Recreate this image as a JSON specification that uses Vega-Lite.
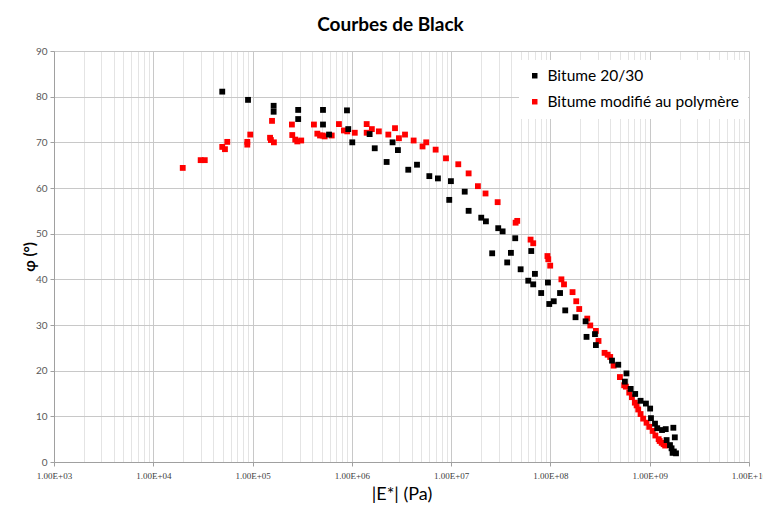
{
  "$schema": "https://vega.github.io/schema/vega-lite/v6.json",
  "width": 695,
  "height": 411,
  "autosize": "none",
  "padding": {"left": 54, "top": 51, "right": 14, "bottom": 44},
  "background": "white",
  "title": {"text": "Courbes de Black", "font": "Lato", "fontSize": 19, "fontWeight": "bold", "color": "#000000", "offset": 11, "dx": -11, "anchor": "middle"},
  "config": {"view": {"stroke": null}},
  "data": {"values": [
    {"E": 1.98e4, "phi": 64.4, "s": "Bitume modifié au polymère"},
    {"E": 3.0e4, "phi": 66.1, "s": "Bitume modifié au polymère"},
    {"E": 3.3e4, "phi": 66.1, "s": "Bitume modifié au polymère"},
    {"E": 4.95e4, "phi": 69.0, "s": "Bitume modifié au polymère"},
    {"E": 5.27e4, "phi": 68.5, "s": "Bitume modifié au polymère"},
    {"E": 5.56e4, "phi": 70.1, "s": "Bitume modifié au polymère"},
    {"E": 8.85e4, "phi": 70.1, "s": "Bitume modifié au polymère"},
    {"E": 8.85e4, "phi": 69.5, "s": "Bitume modifié au polymère"},
    {"E": 9.48e4, "phi": 71.7, "s": "Bitume modifié au polymère"},
    {"E": 1.50e5, "phi": 71.0, "s": "Bitume modifié au polymère"},
    {"E": 1.53e5, "phi": 70.5, "s": "Bitume modifié au polymère"},
    {"E": 1.64e5, "phi": 70.0, "s": "Bitume modifié au polymère"},
    {"E": 1.57e5, "phi": 74.7, "s": "Bitume modifié au polymère"},
    {"E": 2.49e5, "phi": 73.9, "s": "Bitume modifié au polymère"},
    {"E": 2.51e5, "phi": 71.6, "s": "Bitume modifié au polymère"},
    {"E": 2.69e5, "phi": 70.6, "s": "Bitume modifié au polymère"},
    {"E": 2.82e5, "phi": 70.2, "s": "Bitume modifié au polymère"},
    {"E": 3.09e5, "phi": 70.4, "s": "Bitume modifié au polymère"},
    {"E": 4.15e5, "phi": 73.9, "s": "Bitume modifié au polymère"},
    {"E": 4.49e5, "phi": 71.9, "s": "Bitume modifié au polymère"},
    {"E": 4.78e5, "phi": 71.5, "s": "Bitume modifié au polymère"},
    {"E": 5.08e5, "phi": 71.5, "s": "Bitume modifié au polymère"},
    {"E": 5.32e5, "phi": 71.3, "s": "Bitume modifié au polymère"},
    {"E": 6.27e5, "phi": 71.5, "s": "Bitume modifié au polymère"},
    {"E": 7.41e5, "phi": 74.0, "s": "Bitume modifié au polymère"},
    {"E": 8.32e5, "phi": 72.6, "s": "Bitume modifié au polymère"},
    {"E": 8.99e5, "phi": 72.4, "s": "Bitume modifié au polymère"},
    {"E": 1.07e6, "phi": 72.1, "s": "Bitume modifié au polymère"},
    {"E": 1.41e6, "phi": 74.0, "s": "Bitume modifié au polymère"},
    {"E": 1.41e6, "phi": 72.1, "s": "Bitume modifié au polymère"},
    {"E": 1.59e6, "phi": 72.9, "s": "Bitume modifié au polymère"},
    {"E": 1.87e6, "phi": 72.4, "s": "Bitume modifié au polymère"},
    {"E": 2.33e6, "phi": 71.7, "s": "Bitume modifié au polymère"},
    {"E": 2.72e6, "phi": 73.1, "s": "Bitume modifié au polymère"},
    {"E": 2.98e6, "phi": 70.9, "s": "Bitume modifié au polymère"},
    {"E": 3.43e6, "phi": 71.7, "s": "Bitume modifié au polymère"},
    {"E": 4.19e6, "phi": 70.4, "s": "Bitume modifié au polymère"},
    {"E": 5.15e6, "phi": 69.1, "s": "Bitume modifié au polymère"},
    {"E": 5.61e6, "phi": 70.0, "s": "Bitume modifié au polymère"},
    {"E": 6.98e6, "phi": 68.4, "s": "Bitume modifié au polymère"},
    {"E": 8.87e6, "phi": 66.5, "s": "Bitume modifié au polymère"},
    {"E": 1.18e7, "phi": 65.2, "s": "Bitume modifié au polymère"},
    {"E": 1.50e7, "phi": 63.2, "s": "Bitume modifié au polymère"},
    {"E": 1.86e7, "phi": 60.4, "s": "Bitume modifié au polymère"},
    {"E": 2.22e7, "phi": 58.8, "s": "Bitume modifié au polymère"},
    {"E": 2.94e7, "phi": 56.9, "s": "Bitume modifié au polymère"},
    {"E": 4.46e7, "phi": 52.4, "s": "Bitume modifié au polymère"},
    {"E": 4.63e7, "phi": 52.8, "s": "Bitume modifié au polymère"},
    {"E": 6.31e7, "phi": 48.7, "s": "Bitume modifié au polymère"},
    {"E": 6.71e7, "phi": 47.9, "s": "Bitume modifié au polymère"},
    {"E": 9.33e7, "phi": 45.1, "s": "Bitume modifié au polymère"},
    {"E": 9.51e7, "phi": 44.4, "s": "Bitume modifié au polymère"},
    {"E": 9.95e7, "phi": 43.0, "s": "Bitume modifié au polymère"},
    {"E": 1.29e8, "phi": 40.0, "s": "Bitume modifié au polymère"},
    {"E": 1.37e8, "phi": 38.9, "s": "Bitume modifié au polymère"},
    {"E": 1.67e8, "phi": 37.2, "s": "Bitume modifié au polymère"},
    {"E": 1.82e8, "phi": 35.2, "s": "Bitume modifié au polymère"},
    {"E": 1.95e8, "phi": 33.5, "s": "Bitume modifié au polymère"},
    {"E": 2.35e8, "phi": 31.4, "s": "Bitume modifié au polymère"},
    {"E": 2.52e8, "phi": 29.9, "s": "Bitume modifié au polymère"},
    {"E": 2.87e8, "phi": 28.7, "s": "Bitume modifié au polymère"},
    {"E": 3.05e8, "phi": 26.5, "s": "Bitume modifié au polymère"},
    {"E": 3.51e8, "phi": 23.9, "s": "Bitume modifié au polymère"},
    {"E": 3.77e8, "phi": 23.5, "s": "Bitume modifié au polymère"},
    {"E": 4.0e8, "phi": 23.0, "s": "Bitume modifié au polymère"},
    {"E": 4.33e8, "phi": 21.1, "s": "Bitume modifié au polymère"},
    {"E": 5.01e8, "phi": 18.6, "s": "Bitume modifié au polymère"},
    {"E": 5.53e8, "phi": 16.8, "s": "Bitume modifié au polymère"},
    {"E": 5.75e8, "phi": 16.5, "s": "Bitume modifié au polymère"},
    {"E": 6.22e8, "phi": 15.2, "s": "Bitume modifié au polymère"},
    {"E": 6.62e8, "phi": 14.2, "s": "Bitume modifié au polymère"},
    {"E": 7.08e8, "phi": 13.0, "s": "Bitume modifié au polymère"},
    {"E": 7.38e8, "phi": 12.4, "s": "Bitume modifié au polymère"},
    {"E": 7.66e8, "phi": 11.5, "s": "Bitume modifié au polymère"},
    {"E": 8.09e8, "phi": 10.5, "s": "Bitume modifié au polymère"},
    {"E": 8.59e8, "phi": 9.5, "s": "Bitume modifié au polymère"},
    {"E": 9.29e8, "phi": 8.6, "s": "Bitume modifié au polymère"},
    {"E": 9.89e8, "phi": 7.7, "s": "Bitume modifié au polymère"},
    {"E": 1.07e9, "phi": 6.8, "s": "Bitume modifié au polymère"},
    {"E": 1.14e9, "phi": 5.8, "s": "Bitume modifié au polymère"},
    {"E": 1.23e9, "phi": 5.0, "s": "Bitume modifié au polymère"},
    {"E": 1.26e9, "phi": 4.6, "s": "Bitume modifié au polymère"},
    {"E": 1.32e9, "phi": 4.2, "s": "Bitume modifié au polymère"},
    {"E": 1.38e9, "phi": 3.9, "s": "Bitume modifié au polymère"},
    {"E": 1.43e9, "phi": 3.6, "s": "Bitume modifié au polymère"},
    {"E": 4.95e4, "phi": 81.1, "s": "Bitume 20/30"},
    {"E": 9.0e4, "phi": 79.3, "s": "Bitume 20/30"},
    {"E": 1.63e5, "phi": 78.0, "s": "Bitume 20/30"},
    {"E": 1.63e5, "phi": 76.7, "s": "Bitume 20/30"},
    {"E": 2.88e5, "phi": 77.1, "s": "Bitume 20/30"},
    {"E": 2.88e5, "phi": 75.1, "s": "Bitume 20/30"},
    {"E": 5.12e5, "phi": 77.1, "s": "Bitume 20/30"},
    {"E": 5.12e5, "phi": 73.9, "s": "Bitume 20/30"},
    {"E": 5.89e5, "phi": 71.7, "s": "Bitume 20/30"},
    {"E": 8.93e5, "phi": 77.0, "s": "Bitume 20/30"},
    {"E": 9.2e5, "phi": 72.9, "s": "Bitume 20/30"},
    {"E": 1.01e6, "phi": 70.0, "s": "Bitume 20/30"},
    {"E": 1.51e6, "phi": 71.8, "s": "Bitume 20/30"},
    {"E": 1.70e6, "phi": 68.7, "s": "Bitume 20/30"},
    {"E": 2.24e6, "phi": 65.7, "s": "Bitume 20/30"},
    {"E": 2.57e6, "phi": 70.0, "s": "Bitume 20/30"},
    {"E": 2.91e6, "phi": 68.3, "s": "Bitume 20/30"},
    {"E": 3.70e6, "phi": 64.0, "s": "Bitume 20/30"},
    {"E": 4.53e6, "phi": 65.1, "s": "Bitume 20/30"},
    {"E": 6.03e6, "phi": 62.6, "s": "Bitume 20/30"},
    {"E": 7.36e6, "phi": 62.1, "s": "Bitume 20/30"},
    {"E": 9.95e6, "phi": 61.5, "s": "Bitume 20/30"},
    {"E": 9.57e6, "phi": 57.4, "s": "Bitume 20/30"},
    {"E": 1.37e7, "phi": 59.2, "s": "Bitume 20/30"},
    {"E": 1.50e7, "phi": 55.0, "s": "Bitume 20/30"},
    {"E": 2.01e7, "phi": 53.5, "s": "Bitume 20/30"},
    {"E": 2.24e7, "phi": 52.7, "s": "Bitume 20/30"},
    {"E": 2.98e7, "phi": 51.2, "s": "Bitume 20/30"},
    {"E": 3.30e7, "phi": 50.5, "s": "Bitume 20/30"},
    {"E": 4.42e7, "phi": 49.0, "s": "Bitume 20/30"},
    {"E": 2.59e7, "phi": 45.7, "s": "Bitume 20/30"},
    {"E": 4.0e7, "phi": 45.8, "s": "Bitume 20/30"},
    {"E": 6.41e7, "phi": 46.2, "s": "Bitume 20/30"},
    {"E": 3.67e7, "phi": 43.7, "s": "Bitume 20/30"},
    {"E": 5.01e7, "phi": 42.2, "s": "Bitume 20/30"},
    {"E": 6.98e7, "phi": 41.2, "s": "Bitume 20/30"},
    {"E": 5.98e7, "phi": 39.7, "s": "Bitume 20/30"},
    {"E": 6.71e7, "phi": 38.9, "s": "Bitume 20/30"},
    {"E": 9.44e7, "phi": 39.3, "s": "Bitume 20/30"},
    {"E": 8.07e7, "phi": 37.0, "s": "Bitume 20/30"},
    {"E": 1.25e8, "phi": 37.0, "s": "Bitume 20/30"},
    {"E": 9.73e7, "phi": 34.6, "s": "Bitume 20/30"},
    {"E": 1.08e8, "phi": 35.2, "s": "Bitume 20/30"},
    {"E": 1.41e8, "phi": 33.2, "s": "Bitume 20/30"},
    {"E": 1.79e8, "phi": 31.7, "s": "Bitume 20/30"},
    {"E": 2.26e8, "phi": 30.8, "s": "Bitume 20/30"},
    {"E": 2.81e8, "phi": 28.0, "s": "Bitume 20/30"},
    {"E": 2.31e8, "phi": 27.4, "s": "Bitume 20/30"},
    {"E": 2.87e8, "phi": 25.6, "s": "Bitume 20/30"},
    {"E": 4.17e8, "phi": 22.2, "s": "Bitume 20/30"},
    {"E": 4.82e8, "phi": 21.3, "s": "Bitume 20/30"},
    {"E": 5.83e8, "phi": 19.4, "s": "Bitume 20/30"},
    {"E": 5.62e8, "phi": 17.6, "s": "Bitume 20/30"},
    {"E": 6.43e8, "phi": 16.0, "s": "Bitume 20/30"},
    {"E": 7.14e8, "phi": 14.9, "s": "Bitume 20/30"},
    {"E": 8.09e8, "phi": 13.4, "s": "Bitume 20/30"},
    {"E": 9.16e8, "phi": 12.8, "s": "Bitume 20/30"},
    {"E": 1.01e9, "phi": 11.7, "s": "Bitume 20/30"},
    {"E": 1.03e9, "phi": 9.6, "s": "Bitume 20/30"},
    {"E": 1.13e9, "phi": 8.4, "s": "Bitume 20/30"},
    {"E": 1.19e9, "phi": 7.4, "s": "Bitume 20/30"},
    {"E": 1.33e9, "phi": 7.0, "s": "Bitume 20/30"},
    {"E": 1.45e9, "phi": 7.2, "s": "Bitume 20/30"},
    {"E": 1.73e9, "phi": 7.5, "s": "Bitume 20/30"},
    {"E": 1.79e9, "phi": 5.4, "s": "Bitume 20/30"},
    {"E": 1.48e9, "phi": 4.8, "s": "Bitume 20/30"},
    {"E": 1.60e9, "phi": 3.7, "s": "Bitume 20/30"},
    {"E": 1.66e9, "phi": 3.0, "s": "Bitume 20/30"},
    {"E": 1.75e9, "phi": 2.3, "s": "Bitume 20/30"},
    {"E": 1.84e9, "phi": 1.9, "s": "Bitume 20/30"},
    {"E": 1.70e9, "phi": 2.0, "s": "Bitume 20/30"}
  ]},
  "mark": {"type": "square", "size": 34, "opacity": 1},
  "encoding": {
    "x": {
      "field": "E", "type": "quantitative",
      "scale": {"type": "log", "domain": [1000, 1e10], "nice": false},
      "title": "|E*| (Pa)",
      "axis": {
        "values": [1e3,2e3,3e3,4e3,5e3,6e3,7e3,8e3,9e3,1e4,2e4,3e4,4e4,5e4,6e4,7e4,8e4,9e4,1e5,2e5,3e5,4e5,5e5,6e5,7e5,8e5,9e5,1e6,2e6,3e6,4e6,5e6,6e6,7e6,8e6,9e6,1e7,2e7,3e7,4e7,5e7,6e7,7e7,8e7,9e7,1e8,2e8,3e8,4e8,5e8,6e8,7e8,8e8,9e8,1e9,2e9,3e9,4e9,5e9,6e9,7e9,8e9,9e9,1e10],
        "labelExpr": "abs(datum.value / pow(10, round(log(datum.value)/LN10)) - 1) < 0.001 ? '1.00E+' + (round(log(datum.value)/LN10) < 10 ? '0' : '') + round(log(datum.value)/LN10) : ''",
        "labelFont": "Liberation Sans Narrow", "labelFontSize": 9, "labelColor": "#404040", "labelPadding": 5,
        "labelOverlap": false, "labelFlush": false,
        "grid": true,
        "gridColor": {"condition": {"test": "abs(datum.value / pow(10, round(log(datum.value)/LN10)) - 1) < 0.001", "value": "#c8c8c8"}, "value": "#e4e4e4"},
        "gridWidth": 1,
        "ticks": true, "tickSize": 4,
        "tickColor": {"condition": {"test": "abs(datum.value / pow(10, round(log(datum.value)/LN10)) - 1) < 0.001", "value": "#a0a0a0"}, "value": "transparent"},
        "domainColor": "#a0a0a0",
        "titleFont": "Lato", "titleFontSize": 18, "titleFontWeight": "normal", "titleColor": "#000000", "titlePadding": 5
      }
    },
    "y": {
      "field": "phi", "type": "quantitative",
      "scale": {"domain": [0, 90], "nice": false},
      "title": "φ (°)",
      "axis": {
        "values": [0,10,20,30,40,50,60,70,80,90],
        "labelFont": "Lato", "labelFontSize": 10, "labelColor": "#595959", "labelPadding": 3,
        "grid": true, "gridColor": "#c8c8c8",
        "ticks": true, "tickSize": 4, "tickColor": "#a0a0a0",
        "domainColor": "#a0a0a0",
        "titleFont": "Lato", "titleFontSize": 15, "titleFontWeight": "bold", "titleColor": "#000000", "titlePadding": -2
      }
    },
    "color": {
      "field": "s", "type": "nominal",
      "scale": {"domain": ["Bitume 20/30", "Bitume modifié au polymère"], "range": ["#000000", "#ff0000"]},
      "legend": {
        "title": null, "orient": "none", "legendX": 465, "legendY": 9,
        "symbolType": "square", "symbolSize": 30, "symbolOpacity": 1,
        "labelFont": "Lato", "labelFontSize": 15.5, "labelColor": "#000000", "labelOffset": 5,
        "rowPadding": 9, "padding": 8, "fillColor": "white", "labelLimit": 300
      }
    }
  }
}
